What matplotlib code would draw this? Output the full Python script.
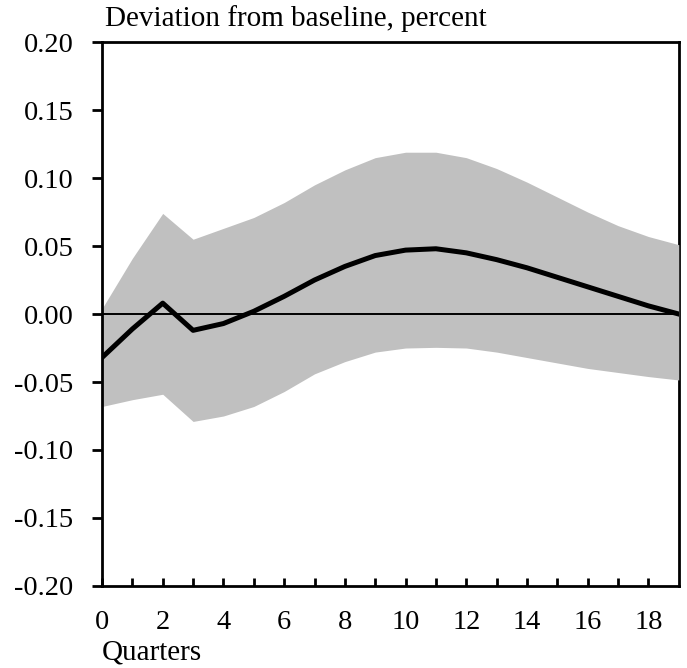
"""Impulse response with confidence band"""
import matplotlib
matplotlib.use("Agg")
from matplotlib import pyplot as plt

quarters = list(range(20))
response = [-0.032, -0.011, 0.008, -0.012, -0.007, 0.002, 0.013, 0.025, 0.035, 0.043,
            0.047, 0.048, 0.045, 0.040, 0.034, 0.027, 0.020, 0.013, 0.006, 0.000]
upper = [0.004, 0.041, 0.074, 0.055, 0.063, 0.071, 0.082, 0.095, 0.106, 0.115,
         0.119, 0.119, 0.115, 0.107, 0.097, 0.086, 0.075, 0.065, 0.057, 0.051]
lower = [-0.068, -0.063, -0.059, -0.079, -0.075, -0.068, -0.057, -0.044, -0.035, -0.028,
         -0.025, -0.0245, -0.025, -0.028, -0.032, -0.036, -0.040, -0.043, -0.046, -0.0485]
y_ticks = [-0.20, -0.15, -0.10, -0.05, 0.00, 0.05, 0.10, 0.15, 0.20]
x_labels = list(range(0, 19, 2))


def main():
    """Draw the chart"""
    plt.rcParams['font.family'] = ['Liberation Serif', 'DejaVu Serif']
    plt.rcParams['font.size'] = 20.5

    fig = plt.figure(figsize=(6.87, 6.68), dpi=100)
    ax = fig.add_axes([0.1485, 0.1228, 0.8395, 0.8142])

    ax.fill_between(quarters, lower, upper, color='#c0c0c0', linewidth=0, zorder=2)
    ax.axhline(0, color='black', linewidth=1.4, zorder=3)
    ax.plot(quarters, response, color='black', linewidth=3.6, zorder=4)

    ax.set_xlim(0, 19)
    ax.set_ylim(-0.2, 0.2)
    ax.set_yticks(y_ticks)
    ax.set_yticklabels(["%.2f" % v for v in y_ticks])
    ax.set_xticks(quarters[:-1])
    ax.set_xticklabels([str(q) if q in x_labels else "" for q in quarters[:-1]])

    for side in ['left', 'bottom', 'top', 'right']:
        ax.spines[side].set_linewidth(2.0)
    ax.spines['right'].set_zorder(1)

    ax.tick_params(axis='y', direction='out', length=7, width=2, pad=13.5)
    ax.tick_params(axis='x', direction='in', length=6, width=2, pad=17)

    fig.text(105 / 687, 1 - 5.5 / 668, "Deviation from baseline, percent",
             ha='left', va='top', fontsize=21)
    fig.text(102 / 687, 1 - 639.5 / 668, "Quarters", ha='left', va='top',
             fontsize=21)

    fig.savefig("out.png", dpi=100)


if __name__ == '__main__':
    main()
